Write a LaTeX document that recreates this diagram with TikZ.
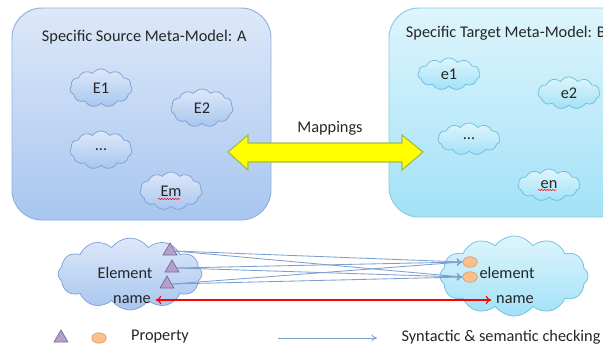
\documentclass[tikz,border=0pt]{standalone}
\usepackage{fontspec}
\setmainfont{Carlito}
\usetikzlibrary{shapes.symbols,shapes.geometric,arrows.meta,decorations.pathmorphing}

\definecolor{srcTop}{HTML}{DDE8F9}
\definecolor{srcBot}{HTML}{A8C6EF}
\definecolor{srcLine}{HTML}{93B2DE}
\definecolor{tgtTop}{HTML}{DEF5FC}
\definecolor{tgtBot}{HTML}{A2E1F7}
\definecolor{tgtLine}{HTML}{8CCBE4}
\definecolor{cloudLine}{HTML}{7C9FD3}
\definecolor{cloudLineB}{HTML}{6ABFDD}
\definecolor{propTri}{HTML}{B3A2C7}
\definecolor{propTriLine}{HTML}{8064A2}
\definecolor{propOval}{HTML}{FAC090}
\definecolor{propOvalLine}{HTML}{E39A5A}
\definecolor{checkLine}{HTML}{7D9FCF}
\definecolor{mapFill}{HTML}{FFFF00}
\definecolor{mapLine}{HTML}{9BBB59}
\definecolor{txt}{HTML}{262626}

\tikzset{
  srcmodel/.style={draw=srcLine, line width=0.7pt, top color=srcTop, bottom color=srcBot, rounded corners=0.75cm},
  tgtmodel/.style={draw=tgtLine, line width=0.7pt, top color=tgtTop, bottom color=tgtBot, rounded corners=0.75cm},
  srccloud/.style={cloud, cloud puffs=11, cloud puff arc=110, aspect=1.7, draw=cloudLine, line width=0.5pt,
    top color=srcTop, bottom color=srcBot, minimum width=1.55cm, minimum height=0.95cm, inner sep=1pt},
  tgtcloud/.style={cloud, cloud puffs=11, cloud puff arc=110, aspect=1.9, draw=cloudLineB, line width=0.5pt,
    top color=tgtTop, bottom color=tgtBot, minimum width=1.55cm, minimum height=0.8cm, inner sep=1pt},
  proptri/.style={regular polygon, regular polygon sides=3, minimum size=0.4cm, inner sep=0pt,
    fill=propTri, draw=propTriLine, line width=0.5pt},
  propoval/.style={ellipse, minimum width=0.36cm, minimum height=0.26cm, inner sep=0pt,
    fill=propOval, draw=propOvalLine, line width=0.5pt},
  check/.style={draw=checkLine, line width=0.6pt, -{To[length=4pt,width=5pt]}},
  namelink/.style={draw=red, line width=0.8pt, {To[length=4pt,width=6pt]}-{To[length=4pt,width=6pt]}},
  spell/.style={red, line width=0.4pt, decorate, decoration={snake, amplitude=0.4pt, segment length=2pt}}
}

\begin{document}
\begin{tikzpicture}[x=0.025cm,y=-0.025cm,font=\fontsize{11.6}{13}\selectfont,text=txt]
\clip (0,0) rectangle (603,349);

% meta-models
\draw[srcmodel] (12,8) rectangle (271,220);
\draw[tgtmodel] (389,8) rectangle (650,217);
\node[anchor=west] (titleA) at (37,37) {Specific Source Meta-Model: A};
\node[anchor=west] (titleB) at (401,33) {Specific Target Meta-Model: B};

\node[srccloud] (E1) at (101,88) {E1};
\node[srccloud] (E2) at (202,108) {E2};
\node[srccloud] (Edots) at (101,150) {...};
\node[srccloud] (Em) at (171,191) {Em};
\draw[spell] (158,199) -- (180,199);

\node[tgtcloud] (e1) at (449,74) {e1};
\node[tgtcloud] (e2) at (569,93) {e2};
\node[tgtcloud] (edots) at (469,139) {...};
\node[tgtcloud] (en) at (549,185) {en};
\draw[spell] (538,190) -- (556,190);

% mappings
\draw[draw=mapLine, fill=mapFill, line width=0.8pt] (228,152) -- (248,135) -- (248,143) -- (402,143)
  -- (402,135) -- (423,152) -- (402,170) -- (402,162) -- (248,162) -- (248,170) -- cycle;
\node (maplbl) at (330,128) {Mappings};

% elements
\node[srccloud, cloud puffs=12, minimum width=3.6cm, minimum height=1.8cm] (elemA) at (130,274) {};
\node[tgtcloud, cloud puffs=12, minimum width=3.7cm, minimum height=2cm] (elemB) at (514,276) {};
\node (lblA) at (125,273) {Element};
\node (nameA) at (132,300) {name};
\node (lblB) at (507,273) {element};
\node (nameB) at (515,300) {name};

\node[proptri] (t1) at (170,251) {};
\node[proptri] (t2) at (172,268) {};
\node[proptri] (t3) at (167,284) {};
\node[propoval] (o1) at (470,262) {};
\node[propoval] (o2) at (470,277) {};

\foreach \t in {t1,t2,t3}
  \foreach \o in {o1,o2}
    \draw[check] (\t.east) -- (\o.west);
\draw[namelink] (nameA.east) -- (nameB.west);

% legend
\node[proptri] (legTri) at (61,338) {};
\node[propoval] (legOval) at (99,338) {};
\node (legProp) at (160,337) {Property};
\coordinate (legS) at (278,338);
\coordinate (legE) at (377,338);
\draw[check] (legS) -- (legE);
\node (legChk) at (501,337) {Syntactic \& semantic checking};
\end{tikzpicture}
\end{document}
